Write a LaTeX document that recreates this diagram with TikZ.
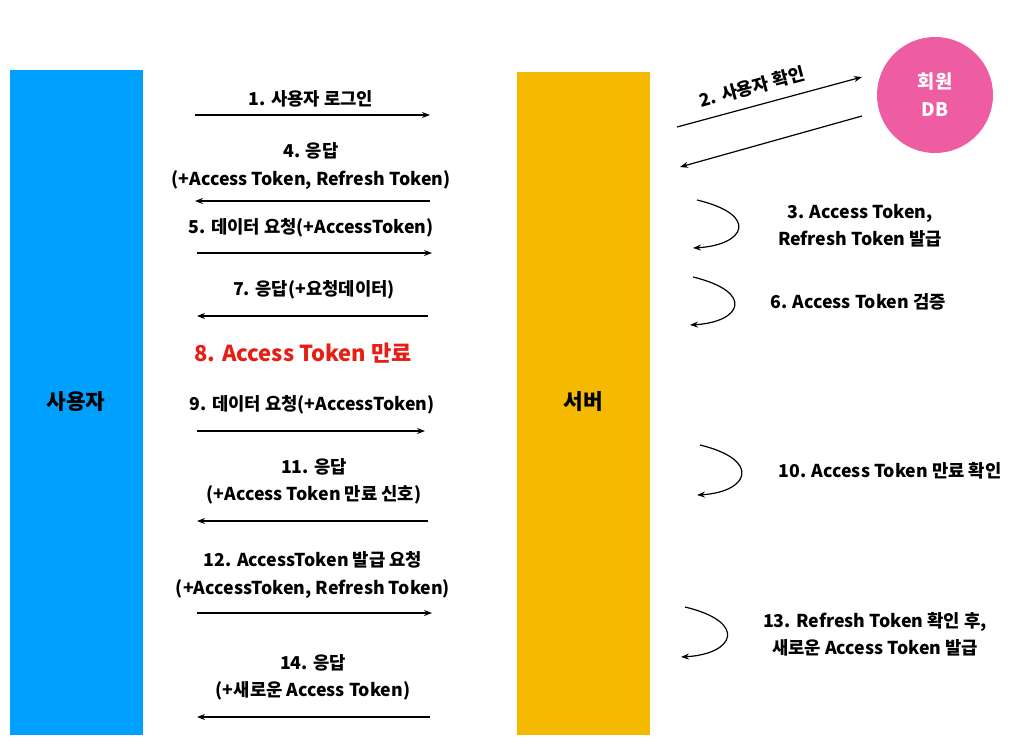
\documentclass[tikz,border=0pt]{standalone}
\usepackage{fontspec}
\setmainfont{Noto Sans CJK KR}
\usetikzlibrary{arrows.meta}
\definecolor{userblue}{RGB}{0, 160, 255}
\definecolor{servergold}{RGB}{245, 185, 0}
\definecolor{dbpink}{RGB}{238, 92, 162}
\definecolor{expired}{RGB}{230, 30, 20}

\begin{document}
\begin{tikzpicture}[x=0.75pt, y=-0.75pt, thick,
    msg/.style={font=\bfseries\fontsize{13.3}{20.5}\selectfont, align=center},
    flow/.style={-{Stealth[length=6pt]}, line width=0.9pt},
    loopback/.style={-{Stealth[length=6pt]}, line width=0.9pt}]

  \useasboundingbox (0, 0) rectangle (1034, 754);

  \fill[userblue] (10, 70) rectangle (143, 735);
  \fill[servergold] (517, 72) rectangle (650, 735);
  \node[msg, font=\bfseries\fontsize{16}{19}\selectfont] (user) at (76, 402) {사용자};
  \node[msg, font=\bfseries\fontsize{16}{19}\selectfont] (server) at (583, 402) {서버};
  \fill[dbpink] (935, 95) circle (58);
  \node[msg, white, font=\bfseries\fontsize{14}{21}\selectfont] (db) at (935, 95) {회원\\DB};

  % user <-> server
  \node[msg] (m1) at (311, 99) {1. 사용자 로그인};
  \draw[flow] (195, 115) coordinate (a1) -- (430, 115) coordinate (b1);
  \node[msg] (m4) at (311, 166) {4. 응답\\(+Access Token, Refresh Token)};
  \draw[flow] (430, 201) coordinate (a4) -- (195, 201) coordinate (b4);
  \node[msg] (m5) at (311, 228) {5. 데이터 요청(+AccessToken)};
  \draw[flow] (197, 253) coordinate (a5) -- (432, 253) coordinate (b5);
  \node[msg] (m7) at (314, 290) {7. 응답(+요청데이터)};
  \draw[flow] (428, 316) coordinate (a7) -- (197, 316) coordinate (b7);
  \node[msg, expired, font=\bfseries\fontsize{16.5}{19}\selectfont] (m8) at (303, 353) {8. Access Token 만료};
  \node[msg] (m9) at (312, 405) {9. 데이터 요청(+AccessToken)};
  \draw[flow] (197, 431) coordinate (a9) -- (425, 431) coordinate (b9);
  \node[msg] (m11) at (314, 481) {11. 응답\\(+Access Token 만료 신호)};
  \draw[flow] (428, 521) coordinate (a11) -- (197, 521) coordinate (b11);
  \node[msg] (m12) at (313, 575) {12. AccessToken 발급 요청\\(+AccessToken, Refresh Token)};
  \draw[flow] (197, 613) coordinate (a12) -- (432, 613) coordinate (b12);
  \node[msg] (m14) at (313, 677) {14. 응답\\(+새로운 Access Token)};
  \draw[flow] (430, 717) coordinate (a14) -- (197, 717) coordinate (b14);

  % server <-> db
  \draw[flow] (677, 127) coordinate (a2) -- (862, 77) coordinate (b2);
  \node[msg, rotate=15] (m2) at (752, 87) {2. 사용자 확인};
  \draw[flow] (862, 116) coordinate (a2r) -- (680, 167) coordinate (b2r);

  % server internal steps
  \draw[loopback] (697, 200) .. controls (760, 215) and (745, 245) .. (693, 248);
  \node[msg] (m3) at (860, 226) {3. Access Token,\\Refresh Token 발급};
  \draw[loopback] (693, 277) .. controls (755, 292) and (742, 322) .. (690, 325);
  \node[msg] (m6) at (858, 302) {6. Access Token 검증};
  \draw[loopback] (700, 445) .. controls (762, 460) and (749, 492) .. (697, 495);
  \node[msg] (m10) at (890, 471) {10. Access Token 만료 확인};
  \draw[loopback] (685, 607) .. controls (748, 622) and (735, 654) .. (681, 657);
  \node[msg] (m13) at (875, 634) {13. Refresh Token 확인 후,\\새로운 Access Token 발급};

\end{tikzpicture}
\end{document}
